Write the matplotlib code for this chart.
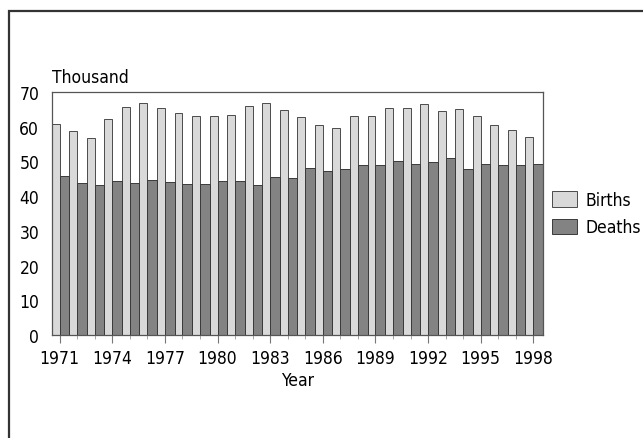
import numpy as np
import matplotlib
matplotlib.use('Agg')
import matplotlib.pyplot as plt
from matplotlib.patches import Rectangle
from matplotlib.ticker import MultipleLocator

# ---- data (thousands) ----
years = list(range(1971, 1999))
births = [60.8, 58.7, 56.7, 62.2, 65.6, 66.8, 65.4, 63.9, 63.2, 63.0,
          63.3, 66.0, 66.8, 64.9, 62.7, 60.5, 59.7, 63.2, 63.2, 65.4,
          65.3, 66.6, 64.6, 65.1, 63.0, 60.5, 59.2, 57.0]
deaths = [45.7, 43.8, 43.3, 44.5, 43.7, 44.7, 44.1, 43.6, 43.6, 44.3,
          44.4, 43.3, 45.4, 45.1, 48.2, 47.2, 47.9, 49.0, 49.0, 50.0,
          49.3, 49.9, 51.0, 47.9, 49.2, 49.0, 49.0, 49.2]
year_ticks = list(range(1971, 1999, 3))
y_ticks = list(range(0, 71, 10))

plt.rcParams['font.family'] = ['DejaVu Sans']
plt.rcParams['font.stretch'] = 'condensed'
FS = 12.5

fig = plt.figure(figsize=(6.43, 4.39), dpi=100)
ax = fig.add_axes([0.0804, 0.2346, 0.7641, 0.5535])

x = np.array(years)
wb, wd = 0.45, 0.55
ax.bar(x - wb, births, width=wb, align='edge', color='#d9d9d9',
       edgecolor='#4a4a4a', linewidth=0.7, label='Births')
ax.bar(x, deaths, width=wd, align='edge', color='#838383',
       edgecolor='#3a3a3a', linewidth=0.7, label='Deaths')

ax.set_xlim(years[0] - wb, years[-1] + wd)
ax.set_ylim(0, 70)
ax.set_yticks(y_ticks)
ax.tick_params(axis='y', length=0, pad=9, labelsize=FS)
ax.set_xticks(year_ticks)
ax.xaxis.set_minor_locator(MultipleLocator(1))
ax.tick_params(axis='x', which='major', length=6, width=0.8,
               color='#777777', pad=4, labelsize=FS)
ax.tick_params(axis='x', which='minor', length=3, width=0.6,
               color='#999999')

for s in ax.spines.values():
    s.set_color('#555555')
    s.set_linewidth(0.9)

ax.set_xlabel('Year', fontsize=FS, labelpad=3)
fig.text(0.081, 0.823, 'Thousand', fontsize=FS, va='center', ha='left')

ax.legend(loc='center left', bbox_to_anchor=(1.0, 0.5), frameon=False,
          handlelength=1.45, handleheight=1.0, handletextpad=0.5,
          borderaxespad=0.1, labelspacing=0.55, fontsize=FS)

# outer frame (only top and left edges fall inside the image)
fig.patches.append(Rectangle((9 / 643, -0.2), 1.2, 1.2 - 12 / 439,
                             transform=fig.transFigure, fill=False,
                             edgecolor='#333333', linewidth=1.6))

fig.savefig('out.png', dpi=100)
